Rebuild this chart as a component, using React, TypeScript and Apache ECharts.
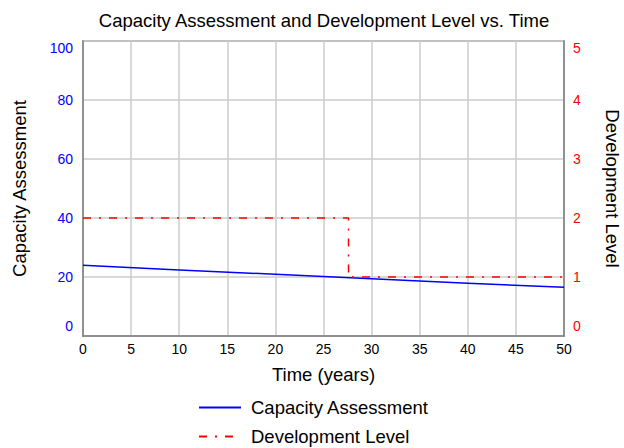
import React, { useEffect, useRef } from "react";
import * as echarts from "echarts";

const title = "Capacity Assessment and Development Level vs. Time";
const capacityYears = [0, 10, 20, 30, 40, 50];
const capacityValues = [24.0, 22.4, 20.9, 19.4, 17.9, 16.5];
const devYears = [0, 27.6, 27.6, 50];
const devValues = [2, 2, 1, 1];

const FONT = "Arial, 'Liberation Sans', sans-serif";
const TICK = 14;
const LABEL = 18.5;

export default function App() {
  const ref = useRef<HTMLDivElement>(null);
  useEffect(() => {
    if (!ref.current) return;
    const chart = echarts.init(ref.current, null, { renderer: "svg" });
    const capData = capacityYears.map((x, i) => [x, capacityValues[i]]);
    const devData = devYears.map((x, i) => [x, devValues[i]]);
    const endRich = (color: string) => ({
      lo: { padding: [0, 0, 20, 0], color, fontSize: TICK, fontFamily: FONT },
      hi: { padding: [13, 0, 0, 0], color, fontSize: TICK, fontFamily: FONT },
    });
    const legendCommon = {
      orient: "horizontal",
      left: 198,
      padding: 0,
      itemWidth: 42,
      itemHeight: 10,
      itemStyle: { opacity: 0 },
      textStyle: { fontSize: LABEL, color: "#000", fontFamily: FONT, padding: [0, 0, 0, 5] },
    };
    chart.setOption({
      animation: false,
      backgroundColor: "#fff",
      textStyle: { fontFamily: FONT },
      graphic: [
        {
          type: "text",
          x: 324,
          y: 20,
          style: {
            text: title,
            fontSize: LABEL,
            fontFamily: FONT,
            fill: "#000",
            textAlign: "center",
            textVerticalAlign: "middle",
          },
        },
      ],
      grid: {
        left: 83,
        right: 60,
        top: 41,
        bottom: 112,
        outerBoundsMode: "none",
        containLabel: false,
        show: true,
        borderColor: "#808080",
        borderWidth: 1.5,
      },
      legend: [
        { ...legendCommon, top: 398, data: ["Capacity Assessment"] },
        { ...legendCommon, top: 427, data: ["Development Level"] },
      ],
      xAxis: {
        type: "value",
        min: 0,
        max: 50,
        interval: 5,
        name: "Time (years)",
        nameLocation: "middle",
        nameGap: 29,
        nameTextStyle: { fontSize: LABEL, color: "#000", fontFamily: FONT },
        axisLine: { show: true, lineStyle: { color: "#808080", width: 1.5 } },
        axisTick: { show: false },
        axisLabel: { fontSize: TICK, color: "#000", margin: 6, fontFamily: FONT },
        splitLine: { show: true, lineStyle: { color: "#cccccc", width: 1.5 } },
      },
      yAxis: [
        {
          type: "value",
          min: 0,
          max: 100,
          interval: 20,
          name: "Capacity Assessment",
          nameLocation: "middle",
          nameGap: 54,
          nameTextStyle: { fontSize: LABEL, color: "#000", fontFamily: FONT },
          axisLine: { show: true, lineStyle: { color: "#808080", width: 1.5 } },
          axisTick: { show: false },
          axisLabel: {
            fontSize: TICK,
            color: "#0000ff",
            margin: 10,
            fontFamily: FONT,
            formatter: (v: number) => (v === 0 ? "{lo|0}" : v === 100 ? "{hi|100}" : String(v)),
            rich: endRich("#0000ff"),
          },
          splitLine: { show: true, lineStyle: { color: "#cccccc", width: 1.5 } },
        },
        {
          type: "value",
          min: 0,
          max: 5,
          interval: 1,
          position: "right",
          name: "Development Level",
          nameLocation: "middle",
          nameRotate: -90,
          nameGap: 39,
          nameTextStyle: { fontSize: LABEL, color: "#000", fontFamily: FONT },
          axisLine: { show: true, lineStyle: { color: "#808080", width: 1.5 } },
          axisTick: { show: false },
          axisLabel: {
            fontSize: TICK,
            color: "#ff0000",
            margin: 9,
            fontFamily: FONT,
            formatter: (v: number) => (v === 0 ? "{lo|0}" : v === 5 ? "{hi|5}" : String(v)),
            rich: endRich("#ff0000"),
          },
          splitLine: { show: false },
        },
      ],
      series: [
        {
          name: "Capacity Assessment",
          type: "line",
          data: capData,
          yAxisIndex: 0,
          showSymbol: false,
          symbol: "none",
          color: "#0000ff",
          lineStyle: { color: "#0000ff", width: 1.5 },
        },
        {
          name: "Development Level",
          type: "line",
          data: devData,
          yAxisIndex: 1,
          showSymbol: false,
          symbol: "none",
          color: "#ff0000",
          lineStyle: { color: "#ff0000", width: 1.5, type: [8, 8, 2, 8] },
        },
      ],
    });
    return () => chart.dispose();
  }, []);
  return <div ref={ref} style={{ width: 624, height: 448, position: "absolute", left: 0, top: 0 }} />;
}
